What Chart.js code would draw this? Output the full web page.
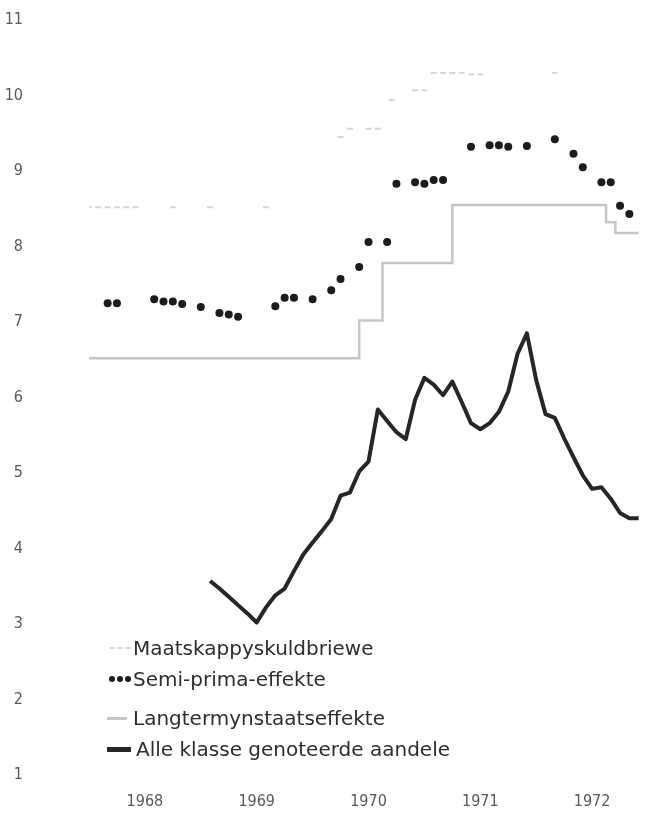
<!DOCTYPE html>
<html>
<head>
<meta charset="utf-8">
<script src="https://cdn.jsdelivr.net/npm/chart.js@4/dist/chart.umd.min.js"></script>
<style>
  html, body { margin: 0; padding: 0; background: #fff; overflow: hidden; }
  #wrap { position: relative; width: 648px; height: 813px; overflow: hidden; }
  #legend { position: absolute; left: 0; top: 0; width: 648px; height: 813px; pointer-events: none;
            font-family: "DejaVu Sans", sans-serif; font-size: 20px; color: #2e2e2e; }
  .row { position: absolute; left: 98px; height: 26px; line-height: 26px; white-space: nowrap; display: flex; align-items: center; }
  .sym { display: inline-flex; align-items: center; justify-content: flex-end; width: 35px; padding-right: 2px; box-sizing: border-box; }
</style>
</head>
<body>
<div id="wrap">
  <canvas id="c" width="648" height="813" style="display:block"></canvas>
  <div id="legend"></div>
</div>
<script>
// ---------- data (x = months since January 1968) ----------
const yearLabels = ['1968', '1969', '1970', '1971', '1972'];
const yearTickMonths = [6, 18, 30, 42, 54];

const seriesLabels = [
  'Maatskappyskuldbriewe',
  'Semi-prima-effekte',
  'Langtermynstaatseffekte',
  'Alle klasse genoteerde aandele'
];

// Maatskappyskuldbriewe (faint dashes, with gaps)
const mkMonths = [0, 1, 2, 3, 4, 5, 9, 13, 19, 27, 28, 30, 31, 32.5, 35, 36, 37, 38, 39, 40, 41, 42, 50];
const mkValues = [8.52, 8.52, 8.52, 8.52, 8.52, 8.52, 8.52, 8.52, 8.52, 9.45, 9.56, 9.56, 9.56, 9.94, 10.07, 10.07, 10.30, 10.30, 10.30, 10.30, 10.28, 10.28, 10.30];

// Semi-prima-effekte (dots)
const semiMonths = [2, 3, 7, 8, 9, 10, 12, 14, 15, 16, 20, 21, 22, 24, 26, 27, 29, 30, 32, 33, 35, 36, 37, 38, 41, 43, 44, 45, 47, 50, 52, 53, 55, 56, 57, 58];
const semiValues = [7.25, 7.25, 7.30, 7.27, 7.27, 7.24, 7.20, 7.12, 7.10, 7.07, 7.21, 7.32, 7.32, 7.30, 7.42, 7.57, 7.73, 8.06, 8.06, 8.83, 8.85, 8.83, 8.88, 8.88, 9.32, 9.34, 9.34, 9.32, 9.33, 9.42, 9.23, 9.05, 8.85, 8.85, 8.54, 8.43];

// Langtermynstaatseffekte (step line)
const ltMonths = [0, 29, 31.5, 39, 55.5, 56.5, 59];
const ltValues = [6.52, 7.02, 7.78, 8.55, 8.32, 8.18, 8.18];

// Alle klasse genoteerde aandele (monthly)
const akMonths = [13, 14, 15, 16, 17, 18, 19, 20, 21, 22, 23, 24, 25, 26, 27, 28, 29, 30, 31, 32, 33, 34, 35, 36, 37, 38, 39, 40, 41, 42, 43, 44, 45, 46, 47, 48, 49, 50, 51, 52, 53, 54, 55, 56, 57, 58, 59];
const akValues = [3.57, 3.47, 3.36, 3.25, 3.14, 3.02, 3.22, 3.38, 3.47, 3.70, 3.92, 4.08, 4.23, 4.39, 4.70, 4.74, 5.02, 5.15, 5.84, 5.69, 5.54, 5.45, 5.97, 6.26, 6.17, 6.03, 6.21, 5.94, 5.66, 5.58, 5.66, 5.81, 6.08, 6.58, 6.85, 6.23, 5.78, 5.73, 5.46, 5.21, 4.97, 4.79, 4.81, 4.66, 4.47, 4.40, 4.40];

const yTicks = [1, 2, 3, 4, 5, 6, 7, 8, 9, 10, 11];

// ---------- build ----------
const pts = (xs, ys) => xs.map((x, i) => ({ x: x, y: ys[i] }));

const colors = {
  mk: '#d6d6d6',
  semi: '#1c1c1c',
  lt: '#c6c6c6',
  ak: '#262626'
};

const AREA = { left: 89, right: 648, top: 20, bottom: 775 };
const tickFont = { family: '"Liberation Sans Narrow", "DejaVu Sans Condensed", sans-serif', size: 16 };

function makeConfig() {
  return {
    type: 'line',
    data: {
      datasets: [
        {
          label: seriesLabels[0],
          data: pts(mkMonths, mkValues),
          showLine: false,
          pointStyle: 'line',
          pointRadius: 3,
          pointBorderWidth: 2,
          borderColor: colors.mk,
          backgroundColor: colors.mk,
          order: 4
        },
        {
          label: seriesLabels[1],
          data: pts(semiMonths, semiValues),
          showLine: false,
          pointStyle: 'circle',
          pointRadius: 4,
          pointBorderWidth: 0,
          backgroundColor: colors.semi,
          borderColor: colors.semi,
          order: 1
        },
        {
          label: seriesLabels[2],
          data: pts(ltMonths, ltValues),
          stepped: 'before',
          borderColor: colors.lt,
          borderWidth: 2.5,
          pointRadius: 0,
          fill: false,
          order: 3
        },
        {
          label: seriesLabels[3],
          data: pts(akMonths, akValues),
          borderColor: colors.ak,
          borderWidth: 4,
          borderJoinStyle: 'round',
          borderCapStyle: 'butt',
          tension: 0,
          pointRadius: 0,
          fill: false,
          order: 2
        }
      ]
    },
    options: {
      responsive: false,
      animation: false,
      layout: { padding: { top: AREA.top, right: 0, left: 0, bottom: 0 } },
      plugins: { legend: { display: false }, tooltip: { enabled: false } },
      scales: {
        x: {
          type: 'linear',
          min: 0,
          max: 60,
          grid: { display: false, drawTicks: false },
          border: { display: false },
          afterFit: (s) => { s.height = 813 - AREA.bottom; s.paddingLeft = 0; s.paddingRight = 0; },
          afterBuildTicks: (s) => { s.ticks = yearTickMonths.map(v => ({ value: v })); },
          ticks: {
            autoSkip: false,
            maxRotation: 0,
            padding: 17,
            color: '#5a5a5a',
            font: tickFont,
            callback: (v) => {
              const i = yearTickMonths.indexOf(v);
              return i >= 0 ? yearLabels[i] : '';
            }
          }
        },
        y: {
          type: 'linear',
          min: 1,
          max: 11,
          grid: { display: false, drawTicks: false },
          border: { display: false },
          afterFit: (s) => { s.width = AREA.left; s.paddingTop = 0; s.paddingBottom = 0; },
          afterBuildTicks: (s) => { s.ticks = yTicks.map(v => ({ value: v })); },
          ticks: {
            padding: 66,
            color: '#5a5a5a',
            font: tickFont,
            callback: (v) => String(v)
          }
        }
      }
    }
  };
}

const canvas = document.getElementById('c');
let chart = new Chart(canvas, makeConfig());
// Chart.js leaves a small right-hand gap; rebuild on a slightly wider canvas
// (clipped by #wrap) so the plot area reaches the right edge of the page.
for (let k = 0; k < 3; k++) {
  const dr = AREA.right - chart.chartArea.right;
  if (Math.abs(dr) < 0.5) break;
  const w = Math.round(chart.width + dr);
  chart.destroy();
  canvas.width = w;
  canvas.height = 813;
  canvas.style.width = w + 'px';
  canvas.style.height = '813px';
  chart = new Chart(canvas, makeConfig());
}

// ---------- legend (HTML, real text) ----------
const legendRows = [648, 679, 718, 749];
const legend = document.getElementById('legend');
function symbolHTML(i) {
  if (i === 0) {
    return '<span class="sym">' + [0, 1, 2].map(() =>
      '<span style="display:inline-block;width:5px;height:2px;background:' + colors.mk + ';margin-left:3px"></span>').join('') + '</span>';
  }
  if (i === 1) {
    return '<span class="sym">' + [0, 1, 2].map(() =>
      '<span style="display:inline-block;width:6px;height:6px;border-radius:50%;background:' + colors.semi + ';margin-left:2px"></span>').join('') + '</span>';
  }
  if (i === 2) {
    return '<span class="sym" style="padding-right:6px"><span style="display:inline-block;width:20px;height:3px;background:' + colors.lt + '"></span></span>';
  }
  return '<span class="sym" style="padding-right:5px;width:38px"><span style="display:inline-block;width:24px;height:5px;background:' + colors.ak + '"></span></span>';
}
seriesLabels.forEach((lab, i) => {
  const row = document.createElement('div');
  row.className = 'row';
  row.style.top = (legendRows[i] - 13) + 'px';
  row.innerHTML = symbolHTML(i) + '<span>' + lab + '</span>';
  legend.appendChild(row);
});
</script>
</body>
</html>
